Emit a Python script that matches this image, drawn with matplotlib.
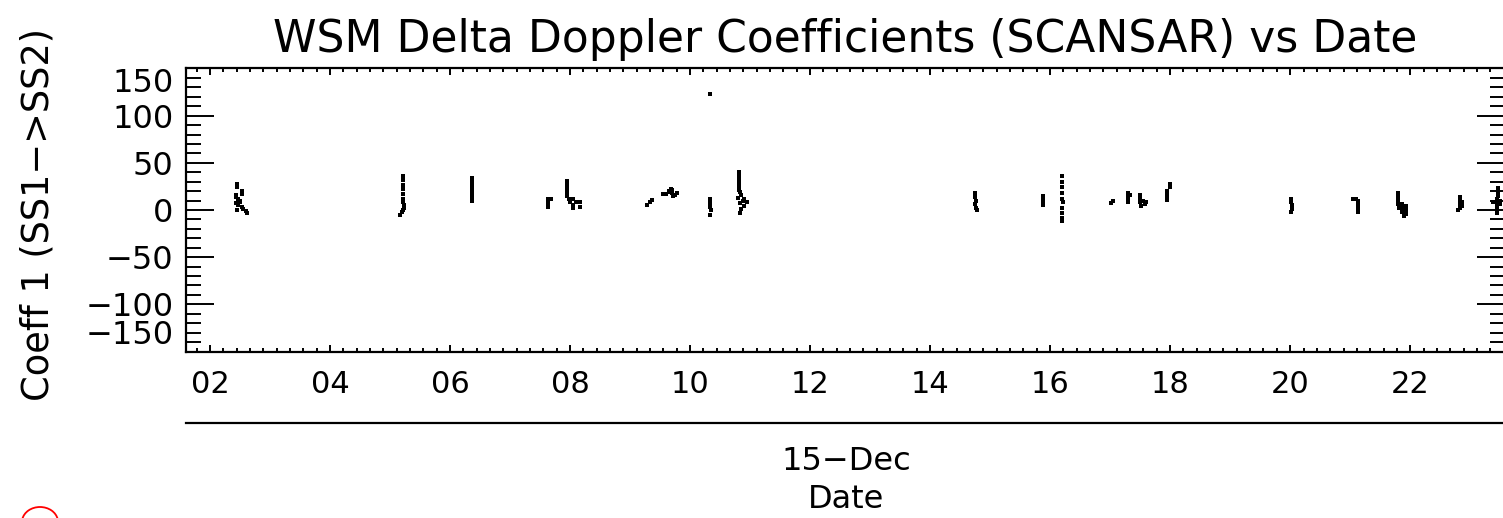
import matplotlib
matplotlib.use("Agg")
import matplotlib.pyplot as plt
from matplotlib.ticker import MultipleLocator, FixedLocator
from matplotlib.patches import Arc
from matplotlib.lines import Line2D

plt.rcParams['font.family'] = ['DejaVu Sans']

title = "WSM Delta Doppler Coefficients (SCANSAR) vs Date"
ylabel = "Coeff 1 (SS1\u2212>SS2)"
date_label = "15\u2212Dec"
xlabel = "Date"

# hour of day (15-Dec) and Coeff 1 values
hours = [
    2.45, 2.45, 2.53, 2.53, 2.43, 2.47, 2.50, 2.43, 2.47, 2.53, 2.43, 2.50, 2.55, 2.60, 2.62, 2.45,
    5.22, 5.22, 5.22, 5.22, 5.22, 5.22, 5.22, 5.23, 5.23, 5.22, 5.20, 5.17,
    6.37, 6.37, 6.37, 6.37, 6.37, 6.37, 6.37, 6.37, 6.37,
    7.63, 7.63, 7.63, 7.63, 7.68,
    7.95, 7.95, 7.95, 7.95, 7.95, 7.98, 8.00, 8.05, 8.05, 8.05, 8.10, 8.17, 8.17,
    9.28, 9.33, 9.37,
    9.55, 9.60, 9.65, 9.68, 9.70, 9.72, 9.75, 9.78, 9.65, 9.70,
    10.33, 10.33, 10.33, 10.33, 10.33, 10.35, 10.33,
    10.82, 10.82, 10.82, 10.82, 10.82, 10.82, 10.83, 10.85, 10.80, 10.88, 10.83, 10.90, 10.85, 10.95, 10.83, 10.90,
    14.75, 14.75, 14.77, 14.75, 14.77, 14.78,
    15.88, 15.88, 15.88, 15.88,
    16.20, 16.20, 16.20, 16.20, 16.20, 16.22, 16.20, 16.20, 16.20, 16.20,
    17.02, 17.05,
    17.30, 17.30, 17.30, 17.30, 17.33,
    17.50, 17.50, 17.50, 17.52, 17.55, 17.58, 17.60,
    18.00, 18.00, 17.95, 17.95, 17.95, 17.95,
    20.02, 20.02, 20.03, 20.03, 20.02,
    21.05, 21.10, 21.13, 21.13, 21.13, 21.13,
    21.80, 21.80, 21.80, 21.80, 21.82, 21.87, 21.87, 21.87, 21.90, 21.93, 21.93, 21.93,
    22.83, 22.83, 22.83, 22.83, 22.87, 22.87, 22.80,
    23.47, 23.47, 23.47, 23.45, 23.45, 23.45, 23.45, 23.45, 23.50, 23.50, 23.38,
]
coeff1 = [
    28, 24, 20, 17, 14, 12, 10, 7, 5, 3, 16, 9, 1, -1, -3, 0,
    36, 32, 27, 22, 17, 12, 8, 5, 2, 0, -2, -5,
    34, 31, 28, 25, 22, 19, 16, 13, 10,
    12, 9, 6, 3, 12,
    31, 27, 23, 19, 15, 12, 8, 5, 2, 12, 8, 8, 3,
    5, 8, 11,
    17, 17, 20, 22, 18, 15, 16, 18, 19, 21,
    123, 12, 9, 6, 3, 0, -5,
    40, 36, 32, 28, 24, 21, 19, 16, 13, 10, 7, 4, 1, 8, -3, 12,
    18, 14, 10, 6, 2, 0,
    15, 11, 7, 5,
    36, 30, 24, 18, 12, 8, 2, -3, -8, -12,
    7, 10,
    18, 15, 12, 9, 16,
    16, 12, 8, 4, 10, 6, 8,
    28, 24, 20, 17, 14, 11,
    12, 9, 5, 1, -2,
    12, 12, 10, 6, 2, -2,
    18, 14, 10, 6, 2, 6, 2, -2, -6, 4, 0, -4,
    14, 10, 6, 2, 8, 4, 0,
    23, 19, 15, 12, 8, 4, 0, -3, 10, 6, 8,
]

x_range = [1.6, 23.58]
y_range = [-150, 150]
x_major = list(range(2, 24, 2))
x_tick_labels = ["%02d" % h for h in x_major]
y_major = [-150, -100, -50, 0, 50, 100, 150]

W, H = 1503, 518
fig = plt.figure(figsize=(W / 100, H / 100), dpi=100)
ax = fig.add_axes([186 / W, (H - 351.5) / H, (1505 - 186) / W, 283 / H])

ax.plot(hours, coeff1, linestyle='none', marker='s', markersize=2.6,
        markeredgewidth=0, color='black')

ax.set_xlim(x_range)
ax.set_ylim(y_range)

ax.xaxis.set_major_locator(FixedLocator(x_major))
ax.set_xticklabels(x_tick_labels)
ax.xaxis.set_minor_locator(MultipleLocator(2 / 9))
ax.yaxis.set_major_locator(FixedLocator(y_major))
ax.yaxis.set_minor_locator(MultipleLocator(10))

for s in ax.spines.values():
    s.set_linewidth(1.6)

ax.tick_params(axis='x', which='major', direction='in', length=5, width=1.4,
               top=True, bottom=True, labelsize=22, pad=13)
ax.tick_params(axis='x', which='minor', direction='in', length=2.8, width=1.4,
               top=True, bottom=True)
ax.tick_params(axis='y', which='major', direction='in', length=20, width=1.4,
               left=True, right=True, labelsize=23, pad=9)
ax.tick_params(axis='y', which='minor', direction='in', length=10.5, width=1.4,
               left=True, right=True)

fig.canvas.draw()
for lab in ax.get_yticklabels():
    txt = lab.get_text().replace('\u2212', '-')
    try:
        v = float(txt)
    except ValueError:
        continue
    if v == 150:
        lab.set_verticalalignment('top')
    elif v == -150:
        lab.set_verticalalignment('bottom')

ax.set_title(title, fontsize=31.7, pad=12)

fig.text(38 / W, 1 - 214 / H, ylabel, rotation=90, fontsize=26.5,
         ha='center', va='center')

fig.add_artist(Line2D([186 / W, 1.0], [1 - 423 / H, 1 - 423 / H],
                      transform=fig.transFigure, color='black', linewidth=1.6))

fig.text(846 / W, 1 - 462 / H, date_label, fontsize=23, ha='center', va='center')
fig.text(846 / W, 1 - 500 / H, xlabel, fontsize=23, ha='center', va='center')

fig.add_artist(Arc((40 / W, -4 / H), 36 / W, 30 / H, theta1=25, theta2=155,
                   transform=fig.transFigure, color='red', linewidth=1.3))

fig.savefig("out.png", dpi=100)
